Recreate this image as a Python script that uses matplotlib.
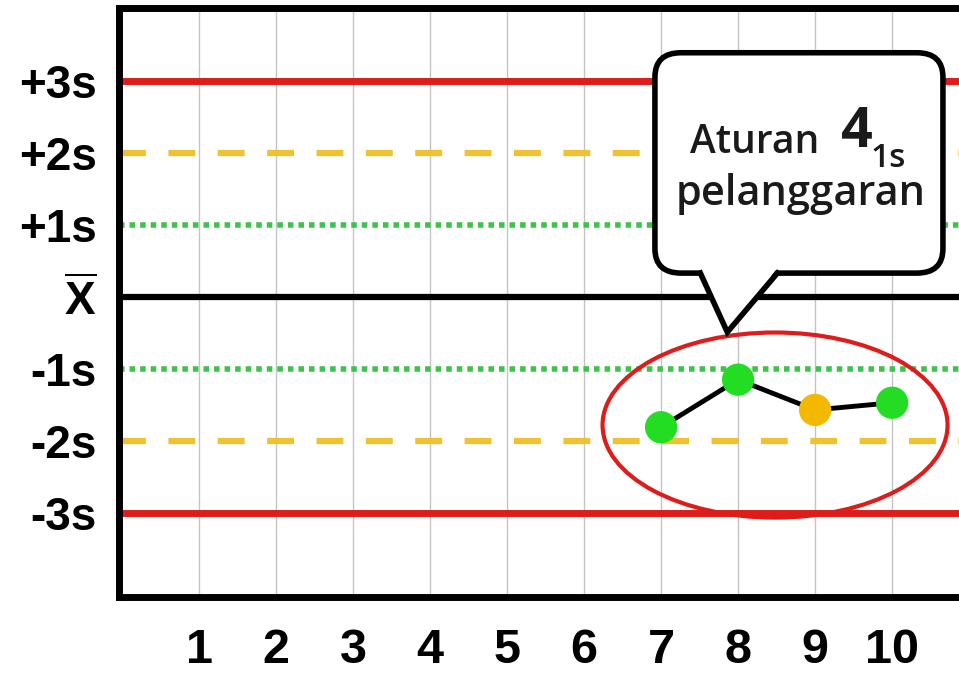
#!/usr/bin/env python3
"""Levey-Jennings chart showing a 4-1s rule violation."""

import matplotlib
matplotlib.use("Agg")
import matplotlib.pyplot as plt
from matplotlib.patches import Ellipse, FancyBboxPatch, Polygon

# Data
runs = [1, 2, 3, 4, 5, 6, 7, 8, 9, 10]
sd_levels = [3, 2, 1, 0, -1, -2, -3]
sd_labels = ['+3s', '+2s', '+1s', r'$\overline{\mathbf{X}}$', '-1s', '-2s', '-3s']
point_runs = [7, 8, 9, 10]
point_values = [-1.81, -1.15, -1.57, -1.47]
point_colors = ['#22dd22', '#22dd22', '#f5b800', '#22dd22']

RED = '#dd1c1c'
YELLOW = '#f0c230'
GREEN = '#3cc44a'

plt.rcParams['mathtext.fontset'] = 'custom'
plt.rcParams['mathtext.bf'] = 'Liberation Sans:bold'
plt.rcParams['mathtext.rm'] = 'Liberation Sans'

fig = plt.figure(figsize=(9.59, 6.74), dpi=100)
ax = fig.add_axes([0.124, 0.114, 0.897, 0.874])
ax.set_xlim(-0.04, 11.13)
ax.set_ylim(-4.17, 4.01)

# Vertical grid at each run
for r in runs:
    ax.axvline(r, color='#c4c4c4', lw=1.0, zorder=1)

# Control limit lines
styles = {
    3: dict(color=RED, lw=5, ls='-'),
    2: dict(color=YELLOW, lw=4.5, ls=(0, (4.3, 3.6))),
    1: dict(color=GREEN, lw=4, ls=(0, (1, 0.9))),
    0: dict(color='black', lw=4.5, ls='-'),
}
for lvl in sd_levels:
    ax.axhline(lvl, zorder=2, **styles[abs(lvl)])

# Control values
ax.plot(point_runs, point_values, color='black', lw=3.5, zorder=4)
ax.scatter(point_runs, point_values, s=540, c=point_colors, zorder=5, linewidths=0)

# Ellipse around the violating run
ax.add_patch(Ellipse((8.48, -1.78), 4.48, 2.57, fill=False, edgecolor=RED, lw=3, zorder=6))

# Callout bubble
bubble = FancyBboxPatch((6.92, 0.33), 3.74, 3.06,
                        boxstyle='round,pad=0,rounding_size=0.34',
                        facecolor='white', edgecolor='black', lw=4, zorder=7)
ax.add_patch(bubble)
ax.add_patch(Polygon([(7.51, 0.40), (8.51, 0.40), (7.86, -0.49)], closed=True,
                     facecolor='white', edgecolor='none', zorder=8))
ax.plot([7.51, 7.86, 8.51], [0.33, -0.49, 0.33], color='black', lw=4,
        solid_joinstyle='miter', zorder=9)

ax.text(9.06, 2.0, 'Aturan', family='Open Sans', fontweight='semibold', fontsize=28,
        color='#1a1a1a', ha='right', va='baseline', zorder=10)
ax.text(9.33, 2.08, '4', family='Open Sans', fontweight='bold', fontsize=40,
        color='#1a1a1a', ha='left', va='baseline', zorder=10)
ax.text(9.72, 1.81, '1s', family='Open Sans', fontweight='semibold', fontsize=24,
        color='#1a1a1a', ha='left', va='baseline', zorder=10)
ax.text(8.81, 1.28, 'pelanggaran', family='Open Sans', fontweight='semibold', fontsize=30,
        color='#1a1a1a', ha='center', va='baseline', zorder=10)

# Axes styling
ax.set_xticks(runs)
ax.set_xticklabels([str(r) for r in runs])
ax.set_yticks(sd_levels)
ax.set_yticklabels(sd_labels)
ax.tick_params(axis='both', length=0)
ax.tick_params(axis='y', pad=16)
ax.tick_params(axis='x', pad=22)
for lab in ax.get_yticklabels():
    lab.set_family('Liberation Sans')
    lab.set_fontweight('bold')
    lab.set_fontsize(33)
for lab in ax.get_xticklabels():
    lab.set_family('Liberation Sans')
    lab.set_fontweight('bold')
    lab.set_fontsize(35)

for side in ['left', 'top', 'bottom']:
    ax.spines[side].set_linewidth(5)
    ax.spines[side].set_color('black')
ax.spines['right'].set_visible(False)

fig.savefig('out.png', dpi=100)
